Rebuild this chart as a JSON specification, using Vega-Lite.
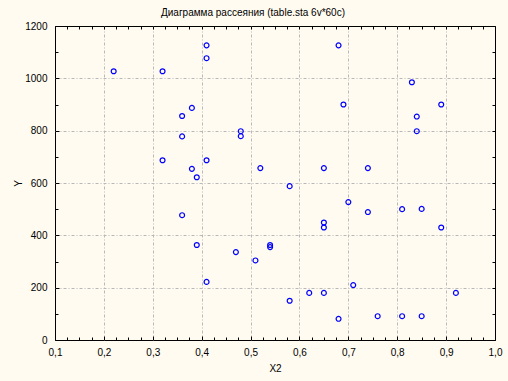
{
  "$schema": "https://vega.github.io/schema/vega-lite/v6.json",
  "width": 440,
  "height": 314,
  "autosize": {"type": "none"},
  "padding": {"left": 55, "top": 26, "right": 13, "bottom": 41},
  "background": "#FFFBF0",
  "title": {"text": "Диаграмма рассеяния (table.sta 6v*60c)", "font": "Liberation Sans", "fontSize": 10, "fontWeight": "normal", "color": "#000000", "offset": 3, "dx": -22},
  "config": {
    "view": {"stroke": "#000000", "strokeWidth": 1, "fill": "#FFFBF0"},
    "axis": {"labelFont": "Liberation Sans", "labelFontSize": 10, "labelColor": "#000000", "titleFont": "Liberation Sans", "titleFontSize": 10, "titleFontWeight": "normal", "titleColor": "#000000", "domain": false, "tickColor": "#000000"}
  },
  "data": {"values": [
    {"X2": 0.22, "Y": 1027}, {"X2": 0.32, "Y": 1027}, {"X2": 0.41, "Y": 1126}, {"X2": 0.41, "Y": 1077},
    {"X2": 0.38, "Y": 887}, {"X2": 0.36, "Y": 856}, {"X2": 0.36, "Y": 778}, {"X2": 0.48, "Y": 798},
    {"X2": 0.48, "Y": 779}, {"X2": 0.32, "Y": 687}, {"X2": 0.41, "Y": 687}, {"X2": 0.38, "Y": 654},
    {"X2": 0.39, "Y": 622}, {"X2": 0.52, "Y": 657}, {"X2": 0.36, "Y": 477}, {"X2": 0.39, "Y": 363},
    {"X2": 0.47, "Y": 336}, {"X2": 0.51, "Y": 304}, {"X2": 0.54, "Y": 363}, {"X2": 0.54, "Y": 355},
    {"X2": 0.41, "Y": 222}, {"X2": 0.58, "Y": 588}, {"X2": 0.58, "Y": 150}, {"X2": 0.62, "Y": 180},
    {"X2": 0.65, "Y": 180}, {"X2": 0.65, "Y": 657}, {"X2": 0.65, "Y": 449}, {"X2": 0.65, "Y": 430},
    {"X2": 0.68, "Y": 1126}, {"X2": 0.69, "Y": 900}, {"X2": 0.70, "Y": 527}, {"X2": 0.71, "Y": 210},
    {"X2": 0.68, "Y": 81}, {"X2": 0.74, "Y": 657}, {"X2": 0.74, "Y": 489}, {"X2": 0.76, "Y": 91},
    {"X2": 0.81, "Y": 500}, {"X2": 0.81, "Y": 91}, {"X2": 0.83, "Y": 985}, {"X2": 0.84, "Y": 854},
    {"X2": 0.84, "Y": 798}, {"X2": 0.85, "Y": 501}, {"X2": 0.85, "Y": 91}, {"X2": 0.89, "Y": 900},
    {"X2": 0.89, "Y": 430}, {"X2": 0.92, "Y": 180}
  ]},
  "resolve": {"axis": {"x": "independent", "y": "independent"}},
  "layer": [
    {
      "mark": {"type": "point", "shape": "circle", "filled": false, "color": "#0000FF", "size": 24, "strokeWidth": 1.2, "opacity": 1},
      "encoding": {
        "x": {"field": "X2", "type": "quantitative", "scale": {"domain": [0.1, 1.0], "nice": false, "zero": false},
          "axis": {"orient": "bottom", "title": "X2", "titlePadding": 5,
            "values": [0.1,0.125,0.15,0.175,0.2,0.225,0.25,0.275,0.3,0.325,0.35,0.375,0.4,0.425,0.45,0.475,0.5,0.525,0.55,0.575,0.6,0.625,0.65,0.675,0.7,0.725,0.75,0.775,0.8,0.825,0.85,0.875,0.9,0.925,0.95,0.975,1.0],
            "labelExpr": "abs(datum.value*10 - round(datum.value*10)) < 0.001 ? replace(format(datum.value, '.1f'), '.', ',') : ''",
            "labelFlush": false, "labelOverlap": false,
            "tickSize": {"condition": {"test": "abs(datum.value*10 - round(datum.value*10)) < 0.001", "value": -4}, "value": -3},
            "labelPadding": 11,
            "grid": true, "gridColor": "#B8B8B8", "gridDash": [3, 2, 1, 2], "gridWidth": 1,
            "gridOpacity": {"condition": {"test": "abs(datum.value*10 - round(datum.value*10)) < 0.001 && datum.value > 0.11 && datum.value < 0.99", "value": 1}, "value": 0}}},
        "y": {"field": "Y", "type": "quantitative", "scale": {"domain": [0, 1200], "nice": false},
          "axis": {"orient": "left", "title": "Y", "titlePadding": 1,
            "values": [0,100,200,300,400,500,600,700,800,900,1000,1100,1200],
            "labelExpr": "datum.value % 200 == 0 ? format(datum.value, 'd') : ''",
            "labelOverlap": false, "labelFlush": false,
            "tickSize": {"condition": {"test": "datum.value % 200 == 0", "value": -4}, "value": -3},
            "labelPadding": 12,
            "grid": true, "gridColor": "#B8B8B8", "gridDash": [3, 2, 1, 2], "gridWidth": 1,
            "gridOpacity": {"condition": {"test": "datum.value % 200 == 0 && datum.value > 0 && datum.value < 1200", "value": 1}, "value": 0}}}
      }
    },
    {
      "mark": {"type": "point", "shape": "circle", "filled": false, "color": "#0000FF", "size": 24, "strokeWidth": 1.2, "opacity": 0},
      "encoding": {
        "x": {"field": "X2", "type": "quantitative", "scale": {"domain": [0.1, 1.0], "nice": false, "zero": false},
          "axis": {"orient": "top", "title": null, "labels": false, "grid": false,
            "values": [0.1,0.125,0.15,0.175,0.2,0.225,0.25,0.275,0.3,0.325,0.35,0.375,0.4,0.425,0.45,0.475,0.5,0.525,0.55,0.575,0.6,0.625,0.65,0.675,0.7,0.725,0.75,0.775,0.8,0.825,0.85,0.875,0.9,0.925,0.95,0.975,1.0],
            "tickSize": -3}},
        "y": {"field": "Y", "type": "quantitative", "scale": {"domain": [0, 1200], "nice": false},
          "axis": {"orient": "right", "title": null, "labels": false, "grid": false,
            "values": [0,100,200,300,400,500,600,700,800,900,1000,1100,1200],
            "tickSize": -3}}
      }
    }
  ]
}
